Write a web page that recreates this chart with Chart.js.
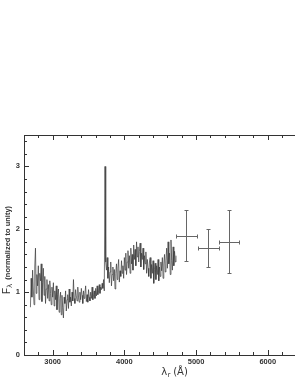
<!DOCTYPE html>
<html>
<head>
<meta charset="utf-8">
<script src="https://cdn.jsdelivr.net/npm/chart.js@4.4.0/dist/chart.umd.min.js"></script>
<style>
  html, body { margin: 0; padding: 0; background: #fff; overflow: hidden; }
  #wrap { position: relative; width: 295px; height: 382px; }
</style>
</head>
<body>
<div id="wrap"><canvas id="chart" width="295" height="382"></canvas></div>
<script>
// spectrum, sampled every 10 A starting at 2690 A
const waveStart = 2690;
const waveStep = 10;
const flux = [
  0.76, 1.22, 0.92, 1.35, 1.05, 0.80, 1.40, 1.70, 0.98, 1.28,
  1.10, 1.42, 0.88, 1.30, 1.18, 1.45, 0.85, 1.15, 1.38, 0.95,
  1.25, 0.82, 1.05, 1.20, 0.90, 1.12, 0.86, 1.18, 0.98, 0.80,
  1.08, 0.92, 1.15, 0.78, 1.02, 0.88, 1.10, 0.72, 0.96, 1.05,
  0.68, 0.90, 1.00, 0.64, 0.95, 0.75, 0.59, 0.92, 0.82, 1.02,
  0.70, 0.88, 0.96, 0.74, 1.05, 0.84, 0.92, 0.78, 1.00, 0.86,
  1.20, 0.90, 0.82, 1.04, 0.94, 0.86, 1.08, 0.92, 0.84, 1.00,
  0.88, 1.06, 0.95, 0.82, 1.02, 0.90, 0.98, 1.10, 0.85, 0.96,
  0.84, 1.04, 0.92, 0.86, 1.00, 0.90, 1.08, 0.88, 0.96, 1.02,
  0.90, 1.06, 0.94, 1.10, 0.96, 1.02, 1.12, 0.98, 1.08, 1.04,
  1.14, 1.06, 1.20, 1.02, 3.00, 1.48, 1.35, 1.55, 1.22, 1.40,
  1.15, 1.32, 1.48, 1.10, 1.28, 1.40, 1.18, 1.36, 1.05, 1.30,
  1.45, 1.20, 1.38, 1.52, 1.16, 1.34, 1.25, 1.50, 1.30, 1.42,
  1.22, 1.55, 1.35, 1.62, 1.28, 1.48, 1.66, 1.38, 1.58, 1.30,
  1.70, 1.45, 1.60, 1.35, 1.75, 1.52, 1.68, 1.42, 1.80, 1.56,
  1.72, 1.48, 1.65, 1.78, 1.40, 1.62, 1.52, 1.70, 1.36, 1.58,
  1.45, 1.64, 1.30, 1.52, 1.38, 1.25, 1.48, 1.55, 1.22, 1.44,
  1.30, 1.50, 1.14, 1.36, 1.46, 1.20, 1.42, 1.28, 1.52, 1.18,
  1.40, 1.25, 1.48, 1.34, 1.55, 1.22, 1.45, 1.60, 1.32, 1.50,
  1.70, 1.38, 1.80, 1.45, 1.62, 1.28, 1.83, 1.50, 1.35, 1.72,
  1.42, 1.65, 1.48, 1.58
];

// photometric points with error bars
const photWave = [4866, 5169, 5458];
const photWaveErr = [147, 145, 145];
const photFlux = [1.89, 1.70, 1.79];
const photFluxLo = [1.49, 1.40, 1.30];
const photFluxHi = [2.30, 2.00, 2.30];

const xTicks = [3000, 4000, 5000, 6000];
const yTicks = [0, 1, 2, 3];
const xMin = 2600, xMax = 6380, yMin = 0, yMax = 3.5;

const ink = '#333';
const tickFont = { family: 'Liberation Sans', size: 7.5, weight: 'bold' };

const spectrum = flux.map((f, i) => ({ x: waveStart + i * waveStep, y: f }));

// frame with inward ticks (right side falls outside the picture)
const framePlugin = {
  id: 'frame',
  afterDraw(chart) {
    const { ctx, chartArea: a, scales: { x, y } } = chart;
    ctx.save();
    ctx.strokeStyle = ink;
    ctx.lineWidth = 1;
    ctx.beginPath();
    ctx.moveTo(a.right + 2, a.top + 0.5); ctx.lineTo(a.left + 0.5, a.top + 0.5);
    ctx.lineTo(a.left + 0.5, a.bottom + 0.5); ctx.lineTo(a.right + 2, a.bottom + 0.5);
    for (let v = xMin; v <= xMax; v += 200) {
      const px = Math.round(x.getPixelForValue(v)) + 0.5;
      const len = v % 1000 === 0 ? 5 : 3;
      ctx.moveTo(px, a.bottom); ctx.lineTo(px, a.bottom - len);
      ctx.moveTo(px, a.top); ctx.lineTo(px, a.top + len);
    }
    for (let k = 0; k <= 35; k += 2) {
      const py = Math.round(y.getPixelForValue(k / 10)) + 0.5;
      const len = k % 10 === 0 ? 5 : 3;
      ctx.moveTo(a.left, py); ctx.lineTo(a.left + len, py);
    }
    ctx.stroke();
    ctx.restore();
  }
};

const errorBarPlugin = {
  id: 'errorBars',
  afterDatasetsDraw(chart) {
    const { ctx, scales: { x, y } } = chart;
    ctx.save();
    ctx.strokeStyle = '#666';
    ctx.lineWidth = 1;
    ctx.beginPath();
    photWave.forEach((w, i) => {
      const px = Math.round(x.getPixelForValue(w)) + 0.5;
      const x0 = Math.round(x.getPixelForValue(w - photWaveErr[i])) + 0.5;
      const x1 = Math.round(x.getPixelForValue(w + photWaveErr[i])) + 0.5;
      const py = Math.round(y.getPixelForValue(photFlux[i])) + 0.5;
      const yLo = Math.round(y.getPixelForValue(photFluxLo[i])) + 0.5;
      const yHi = Math.round(y.getPixelForValue(photFluxHi[i])) + 0.5;
      ctx.moveTo(x0, py); ctx.lineTo(x1, py);
      ctx.moveTo(x0, py - 2); ctx.lineTo(x0, py + 2);
      ctx.moveTo(x1, py - 2); ctx.lineTo(x1, py + 2);
      ctx.moveTo(px, yLo); ctx.lineTo(px, yHi);
      ctx.moveTo(px - 2, yHi); ctx.lineTo(px + 2, yHi);
      ctx.moveTo(px - 2, yLo); ctx.lineTo(px + 2, yLo);
    });
    ctx.stroke();
    ctx.restore();
  }
};

// axis titles with subscripts
const titlePlugin = {
  id: 'titles',
  afterDraw(chart) {
    const { ctx } = chart;
    ctx.save();
    ctx.fillStyle = ink;
    ctx.textBaseline = 'alphabetic';

    // x title: lambda_r (A)
    const bigX = '10px "DejaVu Sans"', subX = '7px "DejaVu Sans"';
    ctx.font = bigX;
    const w1 = ctx.measureText('λ').width, w3 = ctx.measureText(' (Å)').width;
    ctx.font = subX;
    const w2 = ctx.measureText('r').width;
    const sx = 174.5 - (w1 + w2 + w3) / 2;
    const by = 375;
    ctx.font = bigX; ctx.fillText('λ', sx, by);
    ctx.font = subX; ctx.fillText('r', sx + w1 + 0.5, by + 2);
    ctx.font = bigX; ctx.fillText(' (Å)', sx + w1 + w2, by);

    // y title: F_lambda (normalized to unity)
    ctx.translate(10, 250);
    ctx.rotate(-Math.PI / 2);
    const bigY = '10px "Liberation Sans"', subY = '7px "DejaVu Sans"', restY = 'bold 7.5px "Liberation Sans"';
    const rest = '  (normalized to unity)';
    ctx.font = bigY; const f1 = ctx.measureText('F').width;
    ctx.font = subY; const f2 = ctx.measureText('λ').width;
    ctx.font = restY; const f3 = ctx.measureText(rest).width;
    const u = -(f1 + f2 + f3) / 2;
    ctx.font = bigY; ctx.fillText('F', u, 0);
    ctx.font = subY; ctx.fillText('λ', u + f1, 2);
    ctx.font = restY; ctx.fillText(rest, u + f1 + f2, -0.5);
    ctx.restore();
  }
};

new Chart(document.getElementById('chart'), {
  type: 'line',
  data: {
    datasets: [{
      label: 'spectrum',
      data: spectrum,
      borderColor: '#3a3a3a',
      borderWidth: 0.7,
      pointRadius: 0,
      tension: 0,
      fill: false
    }]
  },
  options: {
    responsive: false,
    animation: false,
    devicePixelRatio: 1,
    layout: { padding: { left: 0, top: 135, right: 0, bottom: 0 } },
    plugins: { legend: { display: false }, tooltip: { enabled: false } },
    scales: {
      x: {
        type: 'linear',
        min: xMin,
        max: xMax,
        afterBuildTicks: s => { s.ticks = xTicks.map(v => ({ value: v })); },
        afterFit: s => { s.height = 27; },
        ticks: { font: tickFont, color: ink, padding: 2, maxRotation: 0, callback: v => String(v) },
        grid: { display: false, drawTicks: false },
        border: { display: false }
      },
      y: {
        min: yMin,
        max: yMax,
        afterBuildTicks: s => { s.ticks = yTicks.map(v => ({ value: v })); },
        afterFit: s => { s.width = 24; },
        ticks: { font: tickFont, color: ink, padding: 4, callback: v => String(v) },
        grid: { display: false, drawTicks: false },
        border: { display: false }
      }
    }
  },
  plugins: [framePlugin, errorBarPlugin, titlePlugin]
});
</script>
</body>
</html>
